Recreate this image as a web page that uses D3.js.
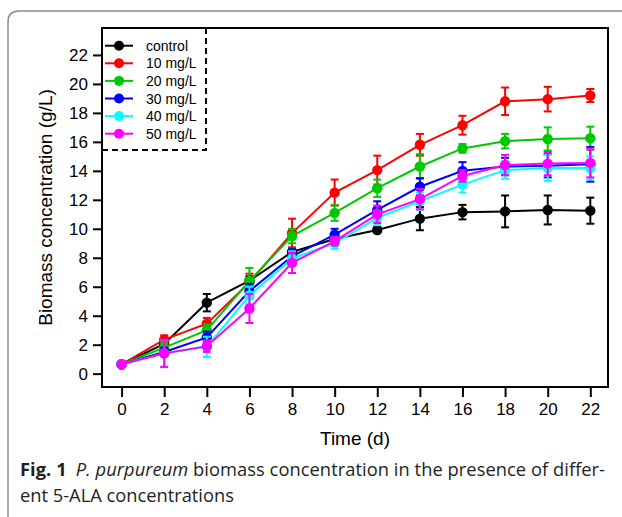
<!DOCTYPE html>
<html><head><meta charset="utf-8">
<script src="https://cdn.jsdelivr.net/npm/d3@7"></script>
<style>body{margin:0;background:#fff}svg{display:block}</style>
</head><body>
<svg id="c" width="622" height="517"></svg>
<script>
const days = [0,2,4,6,8,10,12,14,16,18,20,22];
const seriesNames = ["control","10 mg/L","20 mg/L","30 mg/L","40 mg/L","50 mg/L"];
const seriesColors = ["#000000","#ff0000","#00c800","#0000ff","#00ffff","#ff00ff"];
const control = [0.65,2.05,4.9,6.42,8.4,9.3,9.92,10.7,11.15,11.2,11.3,11.25];
const controlErr = [0.1,0.2,0.6,0.3,0.3,0.3,0.2,0.8,0.5,1.1,1.0,0.9];
const c10 = [0.65,2.35,3.45,6.3,9.7,12.5,14.05,15.8,17.15,18.8,18.95,19.2];
const c10Err = [0.1,0.3,0.4,0.6,1.0,0.9,1.0,0.75,0.65,0.95,0.85,0.45];
const c20 = [0.65,1.8,3.0,6.4,9.5,11.1,12.8,14.3,15.55,16.05,16.2,16.25];
const c20Err = [0.1,0.3,0.4,0.9,0.5,0.55,0.6,0.85,0.3,0.5,0.8,0.8];
const c30 = [0.65,1.5,2.5,5.7,8.1,9.6,11.3,12.9,14.0,14.3,14.35,14.45];
const c30Err = [0.1,0.3,0.4,0.5,0.5,0.4,0.6,0.6,0.6,0.6,0.8,1.2];
const c40 = [0.65,1.4,1.85,5.4,7.95,9.0,10.75,11.9,13.05,14.05,14.2,14.2];
const c40Err = [0.1,0.9,0.7,0.6,0.5,0.4,0.5,0.6,0.55,0.6,0.9,0.8];
const c50 = [0.65,1.4,1.9,4.5,7.65,9.15,11.0,12.05,13.65,14.4,14.5,14.55];
const c50Err = [0.1,0.95,0.4,1.0,0.7,0.3,0.6,0.7,0.4,0.7,0.8,1.0];
const xTicks = [0,2,4,6,8,10,12,14,16,18,20,22];
const yTicks = [0,2,4,6,8,10,12,14,16,18,20,22];

const values = [control,c10,c20,c30,c40,c50];
const errs = [controlErr,c10Err,c20Err,c30Err,c40Err,c50Err];

const svg = d3.select("#c");
const L=102, R=608, T=28, B=387;
const x = d3.scaleLinear().domain([-0.92,22.83]).range([L,R]);
const y = d3.scaleLinear().domain([-0.92,23.86]).range([B,T]);

// outer figure frame
svg.append("path").attr("d","M8,517 L8,22 Q8,11 19,11 L622,11")
  .attr("fill","none").attr("stroke","#8a8a8a").attr("stroke-width",1.5);

// plot box
svg.append("rect").attr("x",L).attr("y",T).attr("width",R-L).attr("height",B-T)
  .attr("fill","none").attr("stroke","#000").attr("stroke-width",2);

const fontAx = "'Liberation Sans', Arial, sans-serif";
const xa = svg.append("g").attr("transform",`translate(0,${B})`)
  .call(d3.axisBottom(x).tickValues(xTicks).tickSize(10).tickPadding(6).tickFormat(d3.format("d")));
const ya = svg.append("g").attr("transform",`translate(${L},0)`)
  .call(d3.axisLeft(y).tickValues(yTicks).tickSize(9).tickPadding(5).tickFormat(d3.format("d")));
[xa,ya].forEach(a=>{
  a.select(".domain").remove();
  a.selectAll(".tick line").attr("stroke","#000").attr("stroke-width",2);
  a.selectAll("text").attr("font-family",fontAx).attr("font-size",17).attr("fill","#000");
});

// axis titles
svg.append("text").attr("x",(L+R)/2).attr("y",445).attr("text-anchor","middle")
  .attr("font-family",fontAx).attr("font-size",19).text("Time (d)");
svg.append("text").attr("transform",`translate(52,${(T+B)/2}) rotate(-90)`).attr("text-anchor","middle")
  .attr("font-family",fontAx).attr("font-size",19).text("Biomass concentration (g/L)");

// series
const line = d3.line().x((d,i)=>x(days[i])).y(d=>y(d));
values.forEach((vals,si)=>{
  const g = svg.append("g");
  const col = seriesColors[si];
  g.append("path").datum(vals).attr("d",line).attr("fill","none").attr("stroke",col).attr("stroke-width",2);
  const eb = g.selectAll(".eb").data(vals).enter().append("g");
  eb.append("line").attr("x1",(d,i)=>x(days[i])).attr("x2",(d,i)=>x(days[i]))
    .attr("y1",(d,i)=>y(d-errs[si][i])).attr("y2",(d,i)=>y(d+errs[si][i])).attr("stroke",col).attr("stroke-width",2);
  [-1,1].forEach(s=>{
    eb.append("line").attr("x1",(d,i)=>x(days[i])-4).attr("x2",(d,i)=>x(days[i])+4)
      .attr("y1",(d,i)=>y(d+s*errs[si][i])).attr("y2",(d,i)=>y(d+s*errs[si][i])).attr("stroke",col).attr("stroke-width",2);
  });
  g.selectAll("circle").data(vals).enter().append("circle")
    .attr("cx",(d,i)=>x(days[i])).attr("cy",d=>y(d)).attr("r",5.2).attr("fill",col);
});

// legend
const lg = svg.append("g");
lg.append("path").attr("d",`M${L},150 L206,150 L206,${T}`).attr("fill","none")
  .attr("stroke","#000").attr("stroke-width",2).attr("stroke-dasharray","6,4");
seriesNames.forEach((n,i)=>{
  const yy = 45.7 + i*17.6;
  lg.append("line").attr("x1",105).attr("x2",133).attr("y1",yy).attr("y2",yy)
    .attr("stroke",seriesColors[i]).attr("stroke-width",2);
  lg.append("circle").attr("cx",119).attr("cy",yy).attr("r",5).attr("fill",seriesColors[i]);
  lg.append("text").attr("x",146).attr("y",yy+5).attr("font-family",fontAx).attr("font-size",14).text(n);
});

// caption
const capFont = "'Open Sans', 'Noto Sans', sans-serif";
const cap = svg.append("text").attr("x",20).attr("y",476).attr("font-family",capFont)
  .attr("font-size",18.3).attr("fill","#231f20").attr("textLength",585).attr("lengthAdjust","spacing");
cap.append("tspan").attr("font-weight","bold").text("Fig. 1");
cap.append("tspan").attr("dx",9).attr("font-style","italic").text("P. purpureum");
cap.append("tspan").text(" biomass concentration in the presence of differ-");
svg.append("text").attr("x",20).attr("y",502).attr("font-family",capFont)
  .attr("font-size",18.3).attr("fill","#231f20").text("ent 5-ALA concentrations");
</script>
</body></html>
